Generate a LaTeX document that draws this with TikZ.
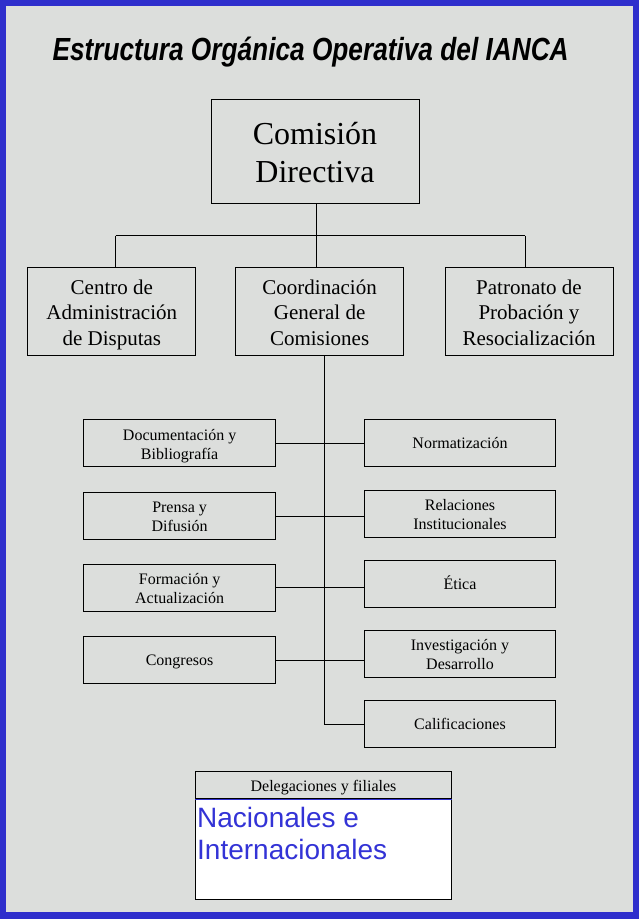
\documentclass[tikz,border=0pt]{standalone}
\usepackage{fontspec}
\usepackage{graphicx}
\setmainfont{Liberation Serif}
\newfontfamily\arialf{Liberation Sans}
\definecolor{bordeazul}{RGB}{46,46,204}
\definecolor{fondo}{RGB}{220,222,220}
\definecolor{azultexto}{RGB}{51,51,214}

\begin{document}
\begin{tikzpicture}[x=1pt, y=-1pt, line width=1pt,
    caja/.style={draw, align=center, inner sep=0pt},
    grande/.style={caja, minimum width=168pt, minimum height=88pt, text height=68.4pt, text depth=0pt, font=\fontsize{21}{25.8}\selectfont},
    chica/.style={caja, minimum width=192pt, minimum height=47pt, text height=31.4pt, text depth=0pt, font=\fontsize{16}{19}\selectfont},
    chicader/.style={chica, minimum width=191pt},
    unalinea/.style={text height=12pt, text depth=1.6pt}]
    \useasboundingbox (0, 0) rectangle (639, 919);
    \fill[bordeazul] (0, 0) rectangle (639, 919);
    \fill[fondo] (6, 6) rectangle (633, 912);

    \node[inner sep=0pt, anchor=base west, font=\arialf\bfseries\itshape\fontsize{32}{38}\selectfont] (tit) at (52, 60)
        {\scalebox{0.82}[1]{Estructura Orgánica Operativa del IANCA}};

    \node[caja, minimum width=208pt, minimum height=104pt, text height=62.6pt, text depth=0pt, font=\fontsize{32}{37.4}\selectfont] (cd) at (315, 151) {Comisión\\Directiva};

    \node[grande] (cad) at (111.8, 311.5) {Centro de\\Administración\\de Disputas};
    \node[grande] (cgc) at (319.6, 311.5) {Coordinación\\General de\\Comisiones};
    \node[grande] (ppr) at (529, 311.5) {Patronato de\\Probación y\\Resocialización};

    \node[chica] (doc) at (179.6, 443.3) {Documentación y\\Bibliografía};
    \node[chica] (pre) at (179.6, 516) {Prensa y\\Difusión};
    \node[chica] (form) at (179.6, 587.8) {Formación y\\Actualización};
    \node[chica, unalinea] (con) at (179.6, 660) {Congresos};

    \node[chicader, unalinea] (nor) at (460, 443.3) {Normatización};
    \node[chicader] (rel) at (460, 513.7) {Relaciones\\Institucionales};
    \node[chicader, unalinea] (eti) at (460, 583.8) {Ética};
    \node[chicader] (inv) at (460, 653.8) {Investigación y\\Desarrollo};
    \node[chicader, unalinea] (cal) at (460, 723.8) {Calificaciones};

    \coordinate (jl) at (115.5, 235.7);
    \coordinate (jc) at (316, 235.7);
    \coordinate (jr) at (525, 235.7);
    \draw (cd.south -| jc) -- (jc);
    \draw (jl) -- (jr);
    \draw (jl) -- (jl |- cad.north);
    \draw (jc) -- (jc |- cgc.north);
    \draw (jr) -- (jr |- ppr.north);

    \coordinate (sp) at (324.5, 724.3);
    \draw (cgc.south -| sp) -- (sp) -- (sp -| cal.west);
    \foreach \a/\b in {doc/nor, pre/rel, form/eti, con/inv}
        \draw (\a.east) -- (\a.east -| \b.west);

    % delegaciones
    \node[draw, fill=white, minimum width=256pt, minimum height=100pt, anchor=north] (dfc) at (323.5, 799.3) {};
    \node[caja, minimum width=256pt, minimum height=27pt, anchor=south, text height=12pt, text depth=0pt, font=\fontsize{16}{19}\selectfont] (dfh) at (dfc.north) {Delegaciones y filiales};
    \draw[bordeazul] (dfc.north west) -- (dfc.north east);
    \node[inner sep=0pt, anchor=north west, align=left, text=azultexto, font=\arialf\fontsize{28}{32.3}\selectfont] (dfn) at (196.7, 806.2) {Nacionales e\\Internacionales};
\end{tikzpicture}
\end{document}
